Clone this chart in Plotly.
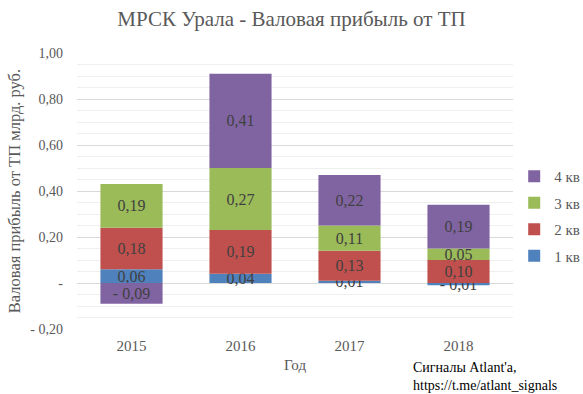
import plotly.graph_objects as go

years = ["2015", "2016", "2017", "2018"]
q1 = [0.06, 0.04, 0.01, -0.01]
q2 = [0.18, 0.19, 0.13, 0.10]
q3 = [0.19, 0.27, 0.11, 0.05]
q4 = [-0.09, 0.41, 0.22, 0.19]
series_names = ["1 кв", "2 кв", "3 кв", "4 кв"]
colors = ["#4F81BD", "#C0504D", "#9BBB59", "#8064A2"]
tick_vals = [-0.2, 0, 0.2, 0.4, 0.6, 0.8, 1.0]
tick_text = ["- 0,20", "-", "0,20", "0,40", "0,60", "0,80", "1,00"]

FONT = "Liberation Serif"


def fmt(v):
    s = f"{abs(v):.2f}".replace(".", ",")
    return ("- " + s) if v < 0 else s


fig = go.Figure()
for i, (name, vals) in enumerate(zip(series_names, [q1, q2, q3, q4])):
    fig.add_trace(go.Bar(
        x=years, y=vals, name=name,
        marker=dict(color=colors[i], line=dict(width=0)),
        text=[fmt(v) for v in vals],
        textposition="inside",
        insidetextanchor="middle",
        constraintext="none",
        textangle=0,
        textfont=dict(family=FONT, size=16, color="#404040"),
        legendgroup=name,
        legendrank=1000 - i,
        hoverinfo="skip",
    ))

fig.update_layout(
    barmode="relative",
    bargap=0.43,
    width=583, height=394,
    margin=dict(l=77, r=70, t=53, b=65, autoexpand=False),
    paper_bgcolor="white", plot_bgcolor="white",
    font=dict(family=FONT, size=14, color="#595959"),
    title=dict(text="МРСК Урала - Валовая прибыль от ТП",
               font=dict(family=FONT, size=21, color="#595959"),
               x=0.5, xanchor="center", y=0.952, yanchor="middle"),
    legend=dict(traceorder="grouped", xref="container", yref="container",
                x=0.882, xanchor="left",
                y=0.452, yanchor="middle", tracegroupgap=4,
                font=dict(family=FONT, size=15, color="#595959"),
                itemwidth=30),
    showlegend=True,
)
fig.update_yaxes(
    range=[-0.2, 1.0],
    tickmode="array", tickvals=tick_vals, ticktext=tick_text,
    showgrid=True, gridcolor="#D9D9D9", gridwidth=1,
    zeroline=False, showline=False, ticks="",
    ticklabelstandoff=13,
    tickfont=dict(family=FONT, size=14, color="#595959"),
    minor=dict(dtick=0.05, tick0=0, showgrid=True, gridcolor="#EFEFEF", gridwidth=1),
    title=dict(text="Валовая прибыль от ТП млрд. руб.",
               font=dict(family=FONT, size=16.5, color="#595959"), standoff=5),
)
fig.update_xaxes(
    showgrid=False, showline=False, ticks="",
    ticklabelstandoff=6,
    tickfont=dict(family=FONT, size=15, color="#595959"),
    title=dict(text="Год", font=dict(family=FONT, size=15, color="#595959"), standoff=6),
)
fig.add_annotation(
    text="Сигналы Atlant'a,<br>https://t.me/atlant_signals",
    xref="paper", yref="paper", x=0.765, y=-0.105,
    xanchor="left", yanchor="top", align="left", showarrow=False,
    font=dict(family=FONT, size=14, color="#000000"),
)

fig.write_html("out.html")
